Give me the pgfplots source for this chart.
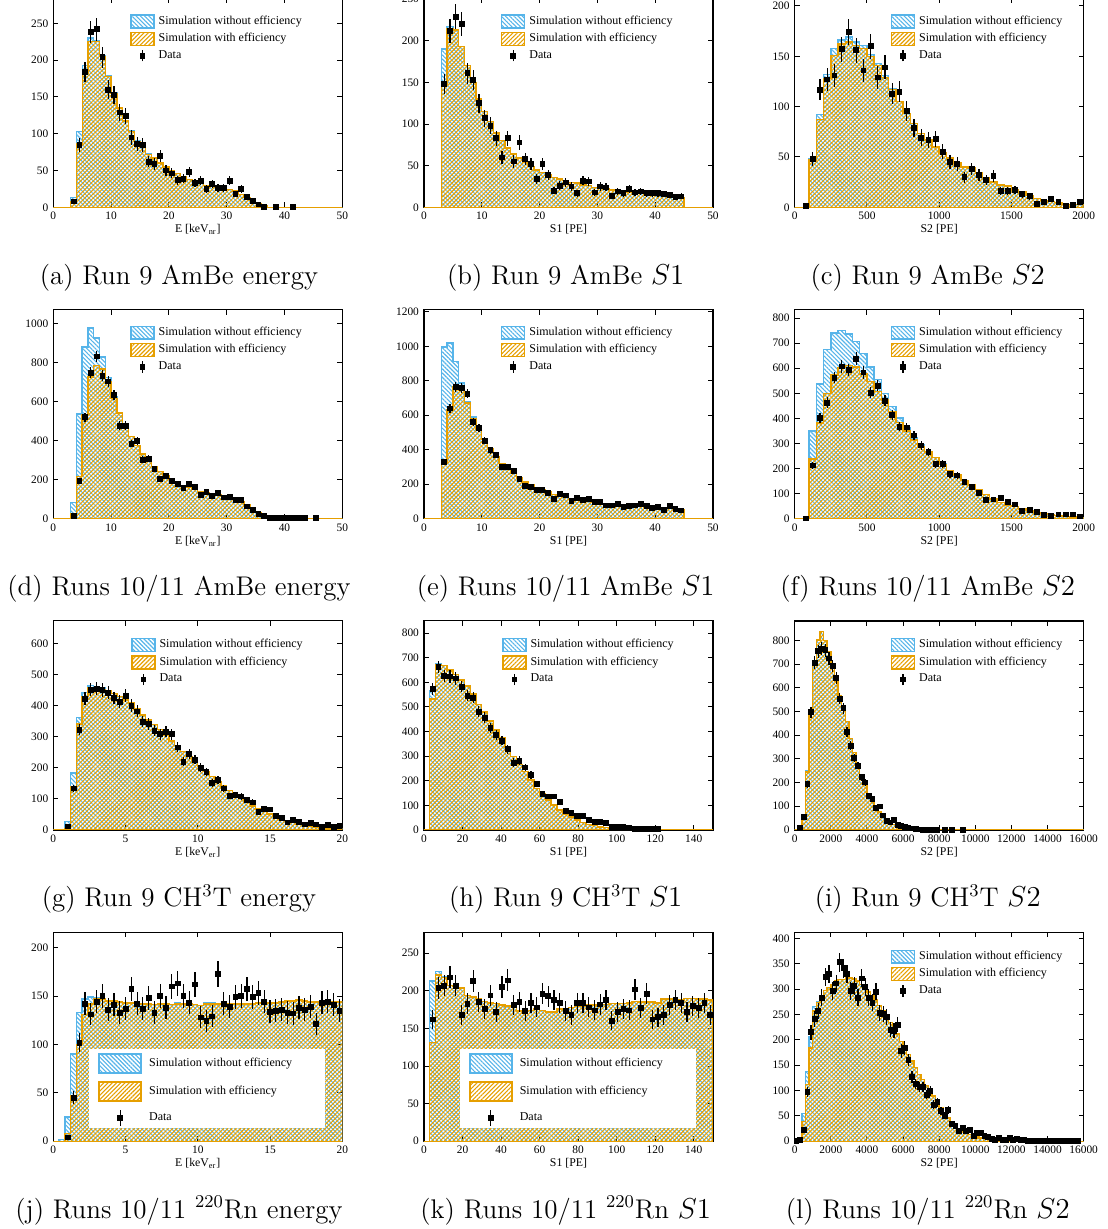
\documentclass[border=0pt]{standalone}
\usepackage{fontspec}
\usepackage{pgfplots}
\pgfplotsset{compat=1.18}
\usepackage{pgfplotstable}
\usepgfplotslibrary{groupplots}
\usetikzlibrary{patterns.meta}
\newfontfamily\rootfont{Liberation Serif}
\definecolor{skyb}{RGB}{86,180,233}
\definecolor{orng}{RGB}{230,159,0}

% ---------- (a) Run 9 AmBe energy ----------
\pgfplotstableread{
x b o
0 0 0
3 13 7
4 103 86
5 193 182
6 230 225
7 226 225
8 206 205
9 179 178
10 156 155
11 136 135
12 118 117
13 104 103
14 90 89
15 83 82
16 73 72
17 67 67
18 60 60
19 55 55
20 50 50
21 46 46
22 42 42
23 38 38
24 36 36
25 34 34
26 30 30
27 28 28
28 27 27
29 26 26
30 24 24
31 22 22
32 17 17
33 13 13
34 9 9
35 5 5
36 2 2
37 0 0
50 0 0
}\hA
\pgfplotstableread{
x y e
3.5 8 2.8
4.5 85 9.2
5.5 184 13.6
6.5 238 15.4
7.5 242 15.6
8.5 204 14.3
9.5 160 12.6
10.5 153 12.4
11.5 129 11.4
12.5 124 11.1
13.5 95 9.7
14.5 86 9.3
15.5 85 9.2
16.5 62 7.9
17.5 59 7.7
18.5 70 8.4
19.5 50 7.1
20.5 46 6.8
21.5 37 6.1
22.5 39 6.2
23.5 48 6.9
24.5 33 5.7
25.5 36 6
26.5 25 5
27.5 32 5.7
28.5 26 5.1
29.5 26 5.1
30.5 36 6
31.5 18 4.2
32.5 25 5
33.5 14 3.7
34.5 9 3
35.5 4 2
36.5 0 0
38.5 0 0
41.5 0 0
}\dA

% ---------- (b) Run 9 AmBe S1 ----------
\pgfplotstableread{
x b o
0 0 0
3 190 148
4 217 215
5 213 213
6 193 193
7 170 170
8 150 150
9 130 130
10 115 115
11 103 103
12 89 89
13 80 80
14 71 71
15 64 64
16 59 59
17 54 54
18 49 49
19 45 45
20 42 42
21 39 39
22 36 36
23 34 34
24 32 32
25 30 30
26 29 29
27 27 27
28 26 26
29 24 24
30 23 23
31 22 22
32 21 21
33 20 20
34 19 19
35 18 18
36 18 18
37 17 17
38 16 16
39 16 16
40 15 15
41 14 14
42 14 14
43 13 13
44 12 12
45 0 0
50 0 0
}\hB
\pgfplotstableread{
x y e
3.5 148 12.2
4.5 212 14.6
5.5 229 15.1
6.5 220 14.8
7.5 161 12.7
8.5 153 12.4
9.5 125 11.2
10.5 107 10.3
11.5 98 9.9
12.5 83 9.1
13.5 60 7.7
14.5 83 9.1
15.5 55 7.4
16.5 78 8.8
17.5 58 7.6
18.5 52 7.2
19.5 34 5.8
20.5 52 7.2
21.5 39 6.2
22.5 20 4.5
23.5 26 5.1
24.5 30 5.5
25.5 25 5
26.5 17 4.1
27.5 32 5.7
28.5 31 5.6
29.5 18 4.2
30.5 25 5
31.5 24 4.9
32.5 14 3.7
33.5 19 4.4
34.5 17 4.1
35.5 22 4.7
36.5 18 4.2
37.5 19 4.4
38.5 17 4.1
39.5 17 4.1
40.5 17 4.1
41.5 16 4
42.5 15 3.9
43.5 12 3.5
44.5 13 3.6
}\dB

% ---------- (c) Run 9 AmBe S2 ----------
\pgfplotstableread{
x b o
0 0 0
100 48 47
150 92 87
200 132 128
250 158 151
300 166 162
350 169 164
400 164 161
450 161 158
500 152 150
550 143 141
600 131 129
650 118 117
700 105 105
750 93 93
800 83 83
850 73 73
900 67 67
950 60 60
1000 54 54
1050 49 49
1100 44 44
1150 40 40
1200 39 39
1250 34 34
1300 29 29
1350 25 25
1400 22 22
1450 21 21
1500 17 17
1550 15 15
1600 12 12
1650 9 9
1700 7 7
1750 6 6
1800 5 5
1850 3 3
1900 3 3
1950 3 3
2000 3 3
}\hC
\pgfplotstableread{
x y e
75 1 1
125 48 6.9
175 117 10.8
225 127 11.3
275 131 11.4
325 157 12.5
375 174 13.2
425 156 12.5
475 136 11.7
525 160 12.6
575 129 11.4
625 139 11.8
675 113 10.6
725 115 10.7
775 96 9.8
825 79 8.9
875 69 8.3
925 67 8.2
975 68 8.2
1025 55 7.4
1075 45 6.7
1125 43 6.6
1175 30 5.5
1225 38 6.2
1275 32 5.7
1325 27 5.2
1375 31 5.6
1425 16 4
1475 16 4
1525 17 4.1
1575 13 3.6
1625 11 3.3
1675 3 1.7
1725 5 2.2
1775 8 2.8
1825 5 2.2
1875 1 1
1925 2 1.4
1975 5 2.2
}\dC

% ---------- (d) Runs 10/11 AmBe energy ----------
\pgfplotstableread{
x b o
0 0 0
3 84 24
4 537 217
5 880 533
6 978 726
7 926 786
8 829 768
9 725 704
10 624 615
11 542 542
12 479 479
13 422 422
14 376 376
15 332 332
16 294 294
17 268 268
18 243 243
19 222 222
20 203 203
21 186 186
22 171 171
23 161 161
24 152 152
25 140 140
26 135 135
27 123 123
28 120 120
29 113 113
30 108 108
31 101 101
32 89 89
33 72 72
34 51 51
35 32 32
36 15 15
37 5 5
38 2 2
39 0 0
50 0 0
}\hD
\pgfplotstableread{
x y e
3.5 15 3.9
4.5 195 14
5.5 520 22.8
6.5 749 27.4
7.5 832 28.8
8.5 733 27.1
9.5 704 26.5
10.5 636 25.2
11.5 477 21.8
12.5 477 21.8
13.5 385 19.6
14.5 398 20
15.5 303 17.4
16.5 308 17.5
17.5 256 16
18.5 205 14.3
19.5 217 14.7
20.5 195 14
21.5 179 13.4
22.5 159 12.6
23.5 176 13.3
24.5 164 12.8
25.5 123 11.1
26.5 138 11.7
27.5 115 10.7
28.5 130 11.4
29.5 109 10.4
30.5 113 10.6
31.5 97 9.8
32.5 97 9.8
33.5 63 7.9
34.5 46 6.8
35.5 26 5.1
36.5 14 3.7
37.5 3 1.7
38.5 2 1.4
39.5 2 1.4
40.5 2 1.4
41.5 2 1.4
42.5 2 1.4
43.5 2 1.4
45.5 2 1.4
}\dD

% ---------- (e) Runs 10/11 AmBe S1 ----------
\pgfplotstableread{
x b o
0 0 0
3 997 323
4 1020 633
5 913 768
6 788 745
7 681 672
8 590 581
9 517 517
10 459 459
11 406 406
12 358 358
13 319 319
14 292 292
15 265 265
16 236 236
17 213 213
18 195 195
19 178 178
20 165 165
21 155 155
22 139 139
23 132 132
24 124 124
25 114 114
26 110 110
27 105 105
28 101 101
29 95 95
30 89 89
31 83 83
32 79 79
33 81 81
34 77 77
35 77 77
36 75 75
37 72 72
38 68 68
39 64 64
40 62 62
41 58 58
42 58 58
43 56 56
44 52 52
45 0 0
50 0 0
}\hE
\pgfplotstableread{
x y e
3.5 327 18.1
4.5 639 25.3
5.5 764 27.6
6.5 757 27.5
7.5 724 26.9
8.5 559 23.6
9.5 526 22.9
10.5 453 21.3
11.5 397 19.9
12.5 368 19.2
13.5 298 17.3
14.5 298 17.3
15.5 279 16.7
16.5 232 15.2
17.5 188 13.7
18.5 182 13.5
19.5 165 12.8
20.5 165 12.8
21.5 149 12.2
22.5 116 10.8
23.5 143 12
24.5 135 11.6
25.5 105 10.2
26.5 122 11
27.5 108 10.4
28.5 112 10.6
29.5 99 9.9
30.5 95 9.7
31.5 77 8.8
32.5 77 8.8
33.5 83 9.1
34.5 66 8.1
35.5 72 8.5
36.5 77 8.8
37.5 83 9.1
38.5 72 8.5
39.5 60 7.7
40.5 66 8.1
41.5 52 7.2
42.5 75 8.7
43.5 54 7.3
44.5 48 6.9
}\dE

% ---------- (f) Runs 10/11 AmBe S2 ----------
\pgfplotstableread{
x b o
0 0 0
100 350 238
150 537 381
200 674 498
250 740 573
300 750 603
350 736 612
400 707 605
450 658 577
500 605 546
550 554 507
600 498 474
650 447 425
700 401 383
750 361 350
800 321 314
850 294 288
900 268 266
950 245 243
1000 218 217
1050 192 191
1100 174 174
1150 152 152
1200 134 134
1250 115 115
1300 95 95
1350 79 79
1400 64 64
1450 53 53
1500 48 48
1550 39 39
1600 32 32
1650 25 25
1700 21 21
1750 16 16
1800 12 12
1850 9 9
1900 7 7
1950 5 5
2000 5 5
}\hF
\pgfplotstableread{
x y e
75 1 1
125 212 14.6
175 401 20
225 463 21.5
275 563 23.7
325 607 24.6
375 593 24.4
425 638 25.3
475 583 24.1
525 503 22.4
575 531 23
625 471 21.7
675 414 20.3
725 367 19.2
775 364 19.1
825 332 18.2
875 292 17.1
925 266 16.3
975 217 14.7
1025 218 14.8
1075 177 13.3
1125 172 13.1
1175 145 12
1225 128 11.3
1275 104 10.2
1325 76 8.7
1375 77 8.8
1425 84 9.2
1475 68 8.2
1525 57 7.5
1575 32 5.7
1625 36 6
1675 28 5.3
1725 16 4
1775 12 3.5
1825 17 4.1
1875 17 4.1
1925 17 4.1
1975 9 3
}\dF

% ---------- (g) Run 9 CH3T energy ----------
\pgfplotstableread{
x b o
0 0 0
0.8 27 5
1.2 183 140
1.6 363 341
2.0 444 430
2.4 466 459
2.8 462 457
3.2 457 452
3.6 448 448
4.0 440 440
4.4 431 431
4.8 419 419
5.2 409 409
5.6 392 392
6.0 371 371
6.4 355 355
6.8 339 339
7.2 323 323
7.6 304 304
8.0 287 287
8.4 272 272
8.8 253 253
9.2 237 237
9.6 220 220
10.0 204 204
10.4 188 188
10.8 172 172
11.2 156 156
11.6 142 142
12.0 127 127
12.4 113 113
12.8 102 102
13.2 89 89
13.6 77 77
14.0 68 68
14.4 59 59
14.8 51 51
15.2 43 43
15.6 35 35
16.0 29 29
16.4 24 24
16.8 19 19
17.2 15 15
17.6 12 12
18.0 9 9
18.4 6 6
18.8 5 5
19.2 4 4
19.6 3 3
20.0 3 3
}\hG
\pgfplotstableread{
x y e
1.0 11 3.3
1.4 134 11.6
1.8 323 18
2.2 423 20.6
2.6 452 21.3
3.0 455 21.3
3.4 451 21.2
3.8 443 21
4.2 425 20.6
4.6 414 20.3
5.0 433 20.8
5.4 401 20
5.8 382 19.5
6.2 349 18.7
6.6 341 18.5
7.0 320 17.9
7.4 309 17.6
7.8 317 17.8
8.2 309 17.6
8.6 266 16.3
9.0 220 14.8
9.4 245 15.7
9.8 226 15
10.2 201 14.2
10.6 186 13.6
11.0 151 12.3
11.4 161 12.7
11.8 134 11.6
12.2 110 10.5
12.6 113 10.6
13.0 108 10.4
13.4 96 9.8
13.8 89 9.4
14.2 57 7.5
14.6 67 8.2
15.0 66 8.1
15.4 46 6.8
15.8 38 6.2
16.2 24 4.9
16.6 33 5.7
17.0 27 5.2
17.4 18 4.2
17.8 22 4.7
18.2 18 4.2
18.6 9 3
19.0 16 4
19.4 9 3
19.8 13 3.6
}\dG

% ---------- (h) Run 9 CH3T S1 ----------
\pgfplotstableread{
x b o
0 0 0
3 565 532
6 674 671
9 668 668
12 651 651
15 633 633
18 610 610
21 586 586
24 552 552
27 511 511
30 479 479
33 443 443
36 407 407
39 373 373
42 335 335
45 298 298
48 267 267
51 237 237
54 203 203
57 169 169
60 146 146
63 122 122
66 102 102
69 81 81
72 65 65
75 52 52
78 41 41
81 31 31
84 23 23
87 18 18
90 12 12
93 9 9
96 7 7
99 5 5
102 4 4
105 3 3
108 2 2
111 1 1
114 0 0
150 0 0
}\hH
\pgfplotstableread{
x y e
4.5 574 24
7.5 662 25.7
10.5 626 25
13.5 624 25
16.5 616 24.8
19.5 583 24.1
22.5 546 23.4
25.5 538 23.2
28.5 480 21.9
31.5 457 21.4
34.5 416 20.4
37.5 386 19.6
40.5 363 19.1
43.5 328 18.1
46.5 274 16.6
49.5 282 16.8
52.5 254 15.9
55.5 224 15
58.5 187 13.7
61.5 146 12.1
64.5 136 11.7
67.5 136 11.7
70.5 114 10.7
73.5 77 8.8
76.5 69 8.3
79.5 57 7.5
82.5 57 7.5
85.5 41 6.4
88.5 33 5.7
91.5 31 5.6
94.5 28 5.3
97.5 12 3.5
100.5 11 3.3
103.5 11 3.3
106.5 7 2.6
109.5 4 2
112.5 4 2
115.5 4 2
118.5 4 2
121.5 4 2
}\dH

% ---------- (i) Run 9 CH3T S2 ----------
\pgfplotstableread{
x b o
0 0 0
400 58 54
600 250 244
800 501 498
1000 715 712
1200 804 802
1400 839 839
1600 800 800
1800 754 754
2000 697 697
2200 627 627
2400 568 568
2600 514 514
2800 458 458
3000 387 387
3200 328 328
3400 279 279
3600 234 234
3800 187 187
4000 152 152
4200 120 120
4400 96 96
4600 75 75
4800 56 56
5000 44 44
5200 32 32
5400 24 24
5600 18 18
5800 13 13
6000 8 8
6200 6 6
6400 3 3
6600 1 1
6800 0 0
16000 0 0
}\hI
\pgfplotstableread{
x y e
300 7 2.6
500 56 7.5
700 193 13.9
900 497 22.3
1100 707 26.6
1300 755 27.5
1500 765 27.7
1700 759 27.5
1900 725 26.9
2100 692 26.3
2300 641 25.3
2500 555 23.6
2700 514 22.7
2900 415 20.4
3100 356 18.9
3300 303 17.4
3500 272 16.5
3700 223 14.9
3900 201 14.2
4100 145 12
4300 130 11.4
4500 93 9.6
4700 99 9.9
4900 61 7.8
5100 37 6.1
5300 32 5.7
5500 41 6.4
5700 21 4.6
5900 18 4.2
6100 14 3.7
6300 10 3.2
6500 6 2.4
6700 3 1.7
6900 2 1.4
7100 1 1
7300 1 1
7500 1 1
7700 1 1
7900 1 1
8300 1 1
8700 1 1
9300 1 1
}\dI

% ---------- (j) Runs 10/11 220Rn energy ----------
\pgfplotstableread{
x b o
0 0 0
0.4 2 0
0.8 25 8
1.2 90 47
1.6 133 100
2.0 147 131
2.4 149 142
2.8 148 147
3.2 147 147
3.6 145 145
4.0 145 145
4.4 144 144
4.8 143 143
5.2 143 143
5.6 142 142
6.0 142 142
6.4 142 142
6.8 141 141
7.2 142 142
7.6 142 142
8.0 141 141
8.4 143 142
8.8 142 142
9.2 142 142
9.6 141 141
10.0 140 140
10.4 143 142
10.8 143 142
11.2 142 142
11.6 142 142
12.0 142 142
12.4 142 142
12.8 142 142
13.2 142 142
13.6 142 142
14.0 143 143
14.4 143 143
14.8 143 143
15.2 143 143
15.6 144 144
16.0 145 145
16.4 145 145
16.8 146 146
17.2 145 145
17.6 144 144
18.0 144 144
18.4 144 144
18.8 144 144
19.2 144 144
19.6 144 144
20.0 144 144
}\hJ
\pgfplotstableread{
x y e
1.0 4 2
1.4 45 6.7
1.8 102 10.1
2.2 142 11.9
2.6 131 11.4
3.0 144 12
3.4 150 12.2
3.8 136 11.7
4.2 141 11.9
4.6 133 11.5
5.0 137 11.7
5.4 157 12.5
5.8 142 11.9
6.2 137 11.7
6.6 148 12.2
7.0 133 11.5
7.4 150 12.2
7.8 138 11.7
8.2 160 12.6
8.6 163 12.8
9.0 150 12.2
9.4 143 12
9.8 162 12.7
10.2 128 11.3
10.6 124 11.1
11.0 129 11.4
11.4 173 13.2
11.8 142 11.9
12.2 139 11.8
12.6 149 12.2
13.0 150 12.2
13.4 157 12.5
13.8 149 12.2
14.2 153 12.4
14.6 144 12
15.0 134 11.6
15.4 135 11.6
15.8 136 11.7
16.2 133 11.5
16.6 132 11.5
17.0 138 11.7
17.4 136 11.7
17.8 139 11.8
18.2 121 11
18.6 143 12
19.0 144 12
19.4 141 11.9
19.8 135 11.6
}\dJ

% ---------- (k) Runs 10/11 220Rn S1 ----------
\pgfplotstableread{
x b o
0 0 0
3 213 131
6 226 221
9 219 218
12 207 207
15 206 206
18 204 204
21 194 194
24 192 192
27 189 189
30 186 186
33 184 184
36 183 183
39 181 181
42 180 180
45 179 179
48 173 173
51 173 173
54 174 174
57 176 176
60 174 174
63 172 172
66 172 172
69 176 176
72 176 176
75 178 178
78 179 179
81 180 180
84 181 181
87 181 181
90 182 182
93 182 182
96 183 183
99 183 183
102 183 183
105 184 184
108 186 186
111 185 185
114 185 185
117 185 185
120 184 184
123 189 189
126 189 189
129 188 188
132 188 188
135 190 190
138 190 190
141 189 189
144 189 189
147 188 188
150 188 188
}\hK
\pgfplotstableread{
x y e
4.5 162 12.7
7.5 204 14.3
10.5 207 14.4
13.5 218 14.8
16.5 207 14.4
19.5 168 13
22.5 183 13.5
25.5 213 14.6
28.5 185 13.6
31.5 176 13.3
34.5 194 13.9
37.5 172 13.1
40.5 205 14.3
43.5 214 14.6
46.5 181 13.5
49.5 185 13.6
52.5 173 13.2
55.5 184 13.6
58.5 178 13.3
61.5 196 14
64.5 193 13.9
67.5 188 13.7
70.5 184 13.6
73.5 173 13.2
76.5 168 13
79.5 184 13.6
82.5 184 13.6
85.5 178 13.3
88.5 174 13.2
91.5 182 13.5
94.5 188 13.7
97.5 160 12.6
100.5 172 13.1
103.5 176 13.3
106.5 174 13.2
109.5 202 14.2
112.5 177 13.3
115.5 196 14
118.5 162 12.7
121.5 165 12.8
124.5 168 13
127.5 181 13.5
130.5 188 13.7
133.5 184 13.6
136.5 172 13.1
139.5 180 13.4
142.5 177 13.3
145.5 184 13.6
148.5 168 13
}\dK

% ---------- (l) Runs 10/11 220Rn S2 ----------
\pgfplotstableread{
x b o
0 0 0
200 5 3
400 55 39
600 137 112
800 207 184
1000 266 257
1200 276 273
1400 286 286
1600 297 297
1800 303 303
2000 309 309
2200 316 316
2400 319 319
2600 319 319
2800 326 326
3000 322 322
3200 320 320
3400 316 316
3600 309 309
3800 303 303
4000 294 294
4200 286 286
4400 278 278
4600 268 268
4800 258 258
5000 247 247
5200 234 234
5400 222 222
5600 211 211
5800 197 197
6000 184 184
6200 171 171
6400 158 158
6600 145 145
6800 132 132
7000 122 122
7200 110 110
7400 99 99
7600 89 89
7800 78 78
8000 66 66
8200 56 56
8400 46 46
8600 38 38
8800 31 31
9000 25 25
9200 20 20
9400 16 16
9600 13 13
9800 11 11
10000 8 8
10200 6 6
10400 5 5
10600 3 3
10800 2 2
11000 1 1
11200 0 0
16000 0 0
}\hL
\pgfplotstableread{
x y e
100 1 1
300 3 1.7
500 22 4.7
700 97 9.8
900 215 14.7
1100 241 15.5
1300 257 16
1500 283 16.8
1700 324 18
1900 330 18.2
2100 296 17.2
2300 311 17.6
2500 353 18.8
2700 341 18.5
2900 330 18.2
3100 296 17.2
3300 306 17.5
3500 283 16.8
3700 321 17.9
3900 304 17.4
4100 283 16.8
4300 273 16.5
4500 295 17.2
4700 253 15.9
4900 251 15.8
5100 245 15.7
5300 220 14.8
5500 218 14.8
5700 230 15.2
5900 178 13.3
6100 184 13.6
6300 160 12.6
6500 127 11.3
6700 113 10.6
6900 107 10.3
7100 107 10.3
7300 92 9.6
7500 99 9.9
7700 72 8.5
7900 77 8.8
8100 59 7.7
8300 50 7.1
8500 62 7.9
8700 34 5.8
8900 30 5.5
9100 20 4.5
9300 26 5.1
9500 20 4.5
9700 22 4.7
9900 10 3.2
10100 16 4
10300 16 4
10500 10 3.2
10700 8 2.8
10900 5 2.2
11100 3 1.7
11300 6 2.4
11500 3 1.7
11700 3 1.7
11900 6 2.4
12100 3 1.7
12300 4 2
12500 3 1.7
12700 3 1.7
12900 1 1
13100 1 1
13300 1 1
13500 1 1
13700 1 1
13900 1 1
14100 1 1
14300 1 1
14500 1 1
14700 1 1
14900 1 1
15100 1 1
15300 1 1
15500 1 1
15700 1 1
}\dL

\pgfplotsset{
  hb/.style={const plot, draw=skyb, line width=0.7pt,
    pattern={Lines[angle=-45,distance=1.5pt,line width=0.55pt]}, pattern color=skyb,
    legend image code/.code={\draw[##1] (0pt,-3.2pt) rectangle (11.5pt,3.2pt);}},
  ho/.style={const plot, draw=orng, line width=0.7pt,
    pattern={Lines[angle=45,distance=1.5pt,line width=0.55pt]}, pattern color=orng,
    legend image code/.code={\draw[##1] (0pt,-3.2pt) rectangle (11.5pt,3.2pt);}},
  dat/.style={only marks, mark=square*, mark size=1.2pt, black,
    legend image code/.code={\draw[black,line width=0.6pt] (5.75pt,-2.8pt)--(5.75pt,2.8pt);
      \fill[black] (4.55pt,-1.2pt) rectangle (6.95pt,1.2pt);},
    error bars/y dir=both, error bars/y explicit, error bars/error mark=none,
    error bars/error bar style={line width=0.6pt,black}},
  bhb/.style={hb, legend image code/.code={\draw[##1] (0pt,-4.75pt) rectangle (21pt,4.75pt);}},
  bho/.style={ho, legend image code/.code={\draw[##1] (0pt,-4.75pt) rectangle (21pt,4.75pt);}},
  bdat/.style={dat, legend image code/.code={\draw[black,line width=0.6pt] (10.5pt,-4pt)--(10.5pt,4pt);
      \fill[black] (9.3pt,-1.2pt) rectangle (11.7pt,1.2pt);}},
}

\begin{document}
\begin{tikzpicture}
\begin{groupplot}[
  group style={group size=3 by 4, horizontal sep=40.85pt, vertical sep=51.15pt},
  width=144.5pt, height=104.5pt, scale only axis,
  ymin=0, xmin=0,
  axis line style={line width=0.6pt},
  tick align=inside, tick pos=both, major tick length=2.5pt,
  xticklabel pos=lower, yticklabel pos=left,
  tick style={black, line width=0.5pt},
  minor tick num=0,
  scaled ticks=false,
  /pgf/number format/assume math mode=true,
  /pgf/number format/1000 sep={},
  tick label style={font=\rootfont\fontsize{5.7}{6}\selectfont},
  xticklabel style={yshift=1pt},
  yticklabel style={xshift=1pt},
  label style={font=\rootfont\fontsize{5.9}{6}\selectfont},
  xlabel style={yshift=4.5pt},
  legend cell align=left,
  legend style={draw=none, fill=none, inner sep=0pt, row sep=1.6pt,
    font=\rootfont\fontsize{6}{7}\selectfont,
    at={(0.265,0.925)}, anchor=north west,
    nodes={inner sep=0.6pt},
    /tikz/every odd column/.append style={column sep=1.4pt}},
]
% (a)
\nextgroupplot[xmax=50, ymax=284, xtick={0,10,...,50}, ytick={0,50,...,250},
  xlabel={E [keV\textsubscript{nr}]}]
\addplot[hb] table[x=x,y=b]{\hA} \closedcycle;
\addplot[ho] table[x=x,y=o]{\hA} \closedcycle;
\addplot[dat] table[x=x,y=y,y error=e]{\dA};
\legend{Simulation without efficiency,Simulation with efficiency,Data}
% (b)
\nextgroupplot[xmax=50, ymax=251, xtick={0,10,...,50}, ytick={0,50,...,250},
  xlabel={S1 [PE]}]
\addplot[hb] table[x=x,y=b]{\hB} \closedcycle;
\addplot[ho] table[x=x,y=o]{\hB} \closedcycle;
\addplot[dat] table[x=x,y=y,y error=e]{\dB};
\legend{Simulation without efficiency,Simulation with efficiency,Data}
% (c)
\nextgroupplot[xmax=2000, ymax=207.6, xtick={0,500,...,2000}, ytick={0,50,...,200},
  xlabel={S2 [PE]}, legend style={at={(0.331,0.925)}}]
\addplot[hb] table[x=x,y=b]{\hC} \closedcycle;
\addplot[ho] table[x=x,y=o]{\hC} \closedcycle;
\addplot[dat] table[x=x,y=y,y error=e]{\dC};
\legend{Simulation without efficiency,Simulation with efficiency,Data}
% (d)
\nextgroupplot[xmax=50, ymax=1072, xtick={0,10,...,50}, ytick={0,200,...,1000},
  xlabel={E [keV\textsubscript{nr}]}]
\addplot[hb] table[x=x,y=b]{\hD} \closedcycle;
\addplot[ho] table[x=x,y=o]{\hD} \closedcycle;
\addplot[dat] table[x=x,y=y,y error=e]{\dD};
\legend{Simulation without efficiency,Simulation with efficiency,Data}
% (e)
\nextgroupplot[xmax=50, ymax=1213, xtick={0,10,...,50}, ytick={0,200,...,1200},
  xlabel={S1 [PE]}]
\addplot[hb] table[x=x,y=b]{\hE} \closedcycle;
\addplot[ho] table[x=x,y=o]{\hE} \closedcycle;
\addplot[dat] table[x=x,y=y,y error=e]{\dE};
\legend{Simulation without efficiency,Simulation with efficiency,Data}
% (f)
\nextgroupplot[xmax=2000, ymax=834, xtick={0,500,...,2000}, ytick={0,100,...,800},
  xlabel={S2 [PE]}, legend style={at={(0.331,0.925)}}]
\addplot[hb] table[x=x,y=b]{\hF} \closedcycle;
\addplot[ho] table[x=x,y=o]{\hF} \closedcycle;
\addplot[dat] table[x=x,y=y,y error=e]{\dF};
\legend{Simulation without efficiency,Simulation with efficiency,Data}
% (g)
\nextgroupplot[xmax=20, ymax=674, xtick={0,5,...,20}, ytick={0,100,...,600},
  xlabel={E [keV\textsubscript{er}]}, legend style={at={(0.268,0.92)}}]
\addplot[hb] table[x=x,y=b]{\hG} \closedcycle;
\addplot[ho] table[x=x,y=o]{\hG} \closedcycle;
\addplot[dat] table[x=x,y=y,y error=e]{\dG};
\legend{Simulation without efficiency,Simulation with efficiency,Data}
% (h)
\nextgroupplot[xmax=150, ymax=850, xtick={0,20,...,140}, ytick={0,100,...,800},
  xlabel={S1 [PE]}, legend style={at={(0.269,0.92)}}]
\addplot[hb] table[x=x,y=b]{\hH} \closedcycle;
\addplot[ho] table[x=x,y=o]{\hH} \closedcycle;
\addplot[dat] table[x=x,y=y,y error=e]{\dH};
\legend{Simulation without efficiency,Simulation with efficiency,Data}
% (i)
\nextgroupplot[xmax=16000, ymax=883, xtick={0,2000,...,16000}, ytick={0,100,...,800},
  xlabel={S2 [PE]}, legend style={at={(0.331,0.92)}}]
\addplot[hb] table[x=x,y=b]{\hI} \closedcycle;
\addplot[ho] table[x=x,y=o]{\hI} \closedcycle;
\addplot[dat] table[x=x,y=y,y error=e]{\dI};
\legend{Simulation without efficiency,Simulation with efficiency,Data}
% (j)
\nextgroupplot[xmax=20, ymax=216, xtick={0,5,...,20}, ytick={0,50,...,200},
  xlabel={E [keV\textsubscript{er}]},
  legend style={at={(0.155,0.4225)}, row sep=3.8pt,
    /tikz/every odd column/.append style={column sep=3pt}}]
\addplot[bhb] table[x=x,y=b]{\hJ} \closedcycle;
\addplot[bho] table[x=x,y=o]{\hJ} \closedcycle;
\addplot[bdat] table[x=x,y=y,y error=e]{\dJ};
\fill[white] (rel axis cs:0.125,0.061) rectangle (rel axis cs:0.94,0.44);
\legend{Simulation without efficiency,Simulation with efficiency,Data}
% (k)
\nextgroupplot[xmax=150, ymax=278, xtick={0,20,...,140}, ytick={0,50,...,250},
  xlabel={S1 [PE]},
  legend style={at={(0.155,0.4225)}, row sep=3.8pt,
    /tikz/every odd column/.append style={column sep=3pt}}]
\addplot[bhb] table[x=x,y=b]{\hK} \closedcycle;
\addplot[bho] table[x=x,y=o]{\hK} \closedcycle;
\addplot[bdat] table[x=x,y=y,y error=e]{\dK};
\fill[white] (rel axis cs:0.125,0.061) rectangle (rel axis cs:0.94,0.44);
\legend{Simulation without efficiency,Simulation with efficiency,Data}
% (l)
\nextgroupplot[xmax=16000, ymax=412, xtick={0,2000,...,16000}, ytick={0,50,...,400},
  xlabel={S2 [PE]}, legend style={at={(0.331,0.919)}}]
\addplot[hb] table[x=x,y=b]{\hL} \closedcycle;
\addplot[ho] table[x=x,y=o]{\hL} \closedcycle;
\addplot[dat] table[x=x,y=y,y error=e]{\dL};
\legend{Simulation without efficiency,Simulation with efficiency,Data}
\end{groupplot}

\begin{scope}[every node/.style={anchor=base, font=\fontsize{13.5}{16}\selectfont}]
\node at ([shift={(62.85pt,-38.5pt)}]group c1r1.south west) {(a) Run 9 AmBe energy};
\node at ([shift={(70.85pt,-38.5pt)}]group c2r1.south west) {(b) Run 9 AmBe $S1$};
\node at ([shift={(66.5pt,-38.5pt)}]group c3r1.south west) {(c) Run 9 AmBe $S2$};
\node at ([shift={(62.85pt,-38.5pt)}]group c1r2.south west) {(d) Runs 10/11 AmBe energy};
\node at ([shift={(70.85pt,-38.5pt)}]group c2r2.south west) {(e) Runs 10/11 AmBe $S1$};
\node at ([shift={(66.5pt,-38.5pt)}]group c3r2.south west) {(f) Runs 10/11 AmBe $S2$};
\node at ([shift={(62.85pt,-38.5pt)}]group c1r3.south west) {(g) Run 9 CH$^3$T energy};
\node at ([shift={(70.85pt,-38.5pt)}]group c2r3.south west) {(h) Run 9 CH$^3$T $S1$};
\node at ([shift={(66.5pt,-38.5pt)}]group c3r3.south west) {(i) Run 9 CH$^3$T $S2$};
\node at ([shift={(62.85pt,-38.5pt)}]group c1r4.south west) {(j) Runs 10/11 $^{220}$Rn energy};
\node at ([shift={(70.85pt,-38.5pt)}]group c2r4.south west) {(k) Runs 10/11 $^{220}$Rn $S1$};
\node at ([shift={(66.5pt,-38.5pt)}]group c3r4.south west) {(l) Runs 10/11 $^{220}$Rn $S2$};
\end{scope}

\pgfresetboundingbox
\path[use as bounding box] ([shift={(-26.65pt,-0.85pt)}]group c1r1.north west)
  rectangle ([shift={(526.85pt,-615.35pt)}]group c1r1.north west);
\end{tikzpicture}
\end{document}
